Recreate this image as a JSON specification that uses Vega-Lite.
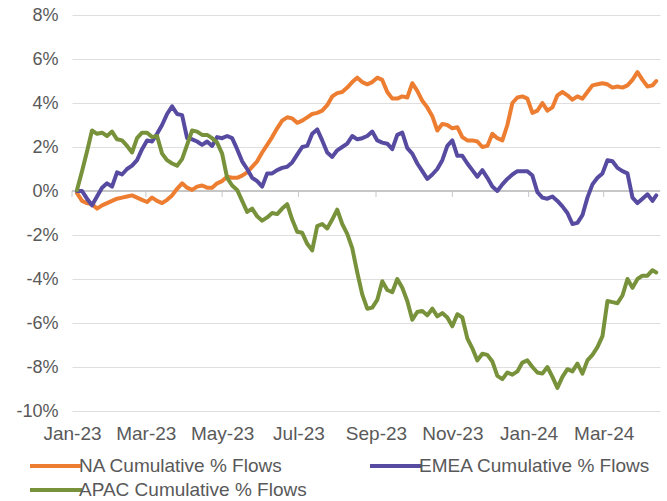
{
  "$schema": "https://vega.github.io/schema/vega-lite/v6.json",
  "width": 588,
  "height": 396,
  "autosize": {"type": "none"},
  "padding": {"left": 72, "top": 15, "right": 7, "bottom": 90},
  "background": "white",
  "config": {"view": {"stroke": null}, "font": "Liberation Sans"},
  "datasets": {
    "ticks": [
      {"d": "2023-01-01"}, {"d": "2023-03-01"}, {"d": "2023-05-01"}, {"d": "2023-07-01"},
      {"d": "2023-09-01"}, {"d": "2023-11-01"}, {"d": "2024-01-01"}, {"d": "2024-03-01"}
    ],
    "flows": [
      {"d": "2023-01-05", "NA": -0.1, "EMEA": 0, "APAC": 0.05},
      {"d": "2023-01-09", "NA": -0.45, "EMEA": 0.0, "APAC": 0.9},
      {"d": "2023-01-13", "NA": -0.55, "EMEA": -0.35, "APAC": 1.8},
      {"d": "2023-01-17", "NA": -0.6, "EMEA": -0.65, "APAC": 2.75},
      {"d": "2023-01-21", "NA": -0.8, "EMEA": -0.25, "APAC": 2.6},
      {"d": "2023-01-25", "NA": -0.65, "EMEA": 0.15, "APAC": 2.65},
      {"d": "2023-01-29", "NA": -0.55, "EMEA": 0.35, "APAC": 2.5},
      {"d": "2023-02-02", "NA": -0.45, "EMEA": 0.2, "APAC": 2.7},
      {"d": "2023-02-06", "NA": -0.35, "EMEA": 0.85, "APAC": 2.35},
      {"d": "2023-02-10", "NA": -0.3, "EMEA": 0.75, "APAC": 2.3},
      {"d": "2023-02-14", "NA": -0.25, "EMEA": 1.0, "APAC": 2.05},
      {"d": "2023-02-18", "NA": -0.2, "EMEA": 1.15, "APAC": 1.75},
      {"d": "2023-02-22", "NA": -0.3, "EMEA": 1.4, "APAC": 2.4},
      {"d": "2023-02-26", "NA": -0.4, "EMEA": 1.9, "APAC": 2.65},
      {"d": "2023-03-02", "NA": -0.5, "EMEA": 2.3, "APAC": 2.65},
      {"d": "2023-03-06", "NA": -0.3, "EMEA": 2.25, "APAC": 2.45},
      {"d": "2023-03-10", "NA": -0.45, "EMEA": 2.6, "APAC": 2.5},
      {"d": "2023-03-14", "NA": -0.55, "EMEA": 3.0, "APAC": 1.7},
      {"d": "2023-03-18", "NA": -0.4, "EMEA": 3.5, "APAC": 1.4},
      {"d": "2023-03-22", "NA": -0.2, "EMEA": 3.85, "APAC": 1.25},
      {"d": "2023-03-26", "NA": 0.1, "EMEA": 3.5, "APAC": 1.15},
      {"d": "2023-03-30", "NA": 0.35, "EMEA": 3.45, "APAC": 1.45},
      {"d": "2023-04-03", "NA": 0.15, "EMEA": 2.4, "APAC": 2.1},
      {"d": "2023-04-07", "NA": 0.05, "EMEA": 2.35, "APAC": 2.75},
      {"d": "2023-04-11", "NA": 0.2, "EMEA": 2.25, "APAC": 2.7},
      {"d": "2023-04-15", "NA": 0.25, "EMEA": 2.1, "APAC": 2.55},
      {"d": "2023-04-19", "NA": 0.15, "EMEA": 2.25, "APAC": 2.55},
      {"d": "2023-04-23", "NA": 0.15, "EMEA": 2.05, "APAC": 2.4},
      {"d": "2023-04-27", "NA": 0.35, "EMEA": 2.45, "APAC": 2.2},
      {"d": "2023-05-01", "NA": 0.45, "EMEA": 2.4, "APAC": 1.7},
      {"d": "2023-05-05", "NA": 0.65, "EMEA": 2.5, "APAC": 0.6},
      {"d": "2023-05-09", "NA": 0.6, "EMEA": 2.4, "APAC": 0.25},
      {"d": "2023-05-13", "NA": 0.6, "EMEA": 1.9, "APAC": 0.05},
      {"d": "2023-05-17", "NA": 0.7, "EMEA": 1.35, "APAC": -0.45},
      {"d": "2023-05-21", "NA": 0.85, "EMEA": 1.0, "APAC": -0.95},
      {"d": "2023-05-25", "NA": 1.1, "EMEA": 0.6, "APAC": -0.8},
      {"d": "2023-05-29", "NA": 1.35, "EMEA": 0.45, "APAC": -1.15},
      {"d": "2023-06-02", "NA": 1.75, "EMEA": 0.2, "APAC": -1.35},
      {"d": "2023-06-06", "NA": 2.1, "EMEA": 0.8, "APAC": -1.2},
      {"d": "2023-06-10", "NA": 2.45, "EMEA": 0.8, "APAC": -1.0},
      {"d": "2023-06-14", "NA": 2.85, "EMEA": 0.95, "APAC": -1.05},
      {"d": "2023-06-18", "NA": 3.2, "EMEA": 1.05, "APAC": -0.8},
      {"d": "2023-06-22", "NA": 3.35, "EMEA": 1.1, "APAC": -0.6},
      {"d": "2023-06-26", "NA": 3.3, "EMEA": 1.3, "APAC": -1.3},
      {"d": "2023-06-30", "NA": 3.1, "EMEA": 1.65, "APAC": -1.85},
      {"d": "2023-07-04", "NA": 3.2, "EMEA": 2.0, "APAC": -1.9},
      {"d": "2023-07-08", "NA": 3.35, "EMEA": 2.05, "APAC": -2.4},
      {"d": "2023-07-12", "NA": 3.5, "EMEA": 2.6, "APAC": -2.7},
      {"d": "2023-07-16", "NA": 3.55, "EMEA": 2.8, "APAC": -1.6},
      {"d": "2023-07-20", "NA": 3.65, "EMEA": 2.3, "APAC": -1.5},
      {"d": "2023-07-24", "NA": 3.9, "EMEA": 1.75, "APAC": -1.7},
      {"d": "2023-07-28", "NA": 4.3, "EMEA": 1.55, "APAC": -1.3},
      {"d": "2023-08-01", "NA": 4.45, "EMEA": 1.85, "APAC": -0.85},
      {"d": "2023-08-05", "NA": 4.5, "EMEA": 2.0, "APAC": -1.5},
      {"d": "2023-08-09", "NA": 4.7, "EMEA": 2.15, "APAC": -1.95},
      {"d": "2023-08-13", "NA": 4.95, "EMEA": 2.5, "APAC": -2.6},
      {"d": "2023-08-17", "NA": 5.15, "EMEA": 2.35, "APAC": -3.7},
      {"d": "2023-08-21", "NA": 4.95, "EMEA": 2.4, "APAC": -4.7},
      {"d": "2023-08-25", "NA": 4.85, "EMEA": 2.5, "APAC": -5.35},
      {"d": "2023-08-29", "NA": 4.95, "EMEA": 2.7, "APAC": -5.3},
      {"d": "2023-09-02", "NA": 5.15, "EMEA": 2.3, "APAC": -4.95},
      {"d": "2023-09-06", "NA": 5.05, "EMEA": 2.2, "APAC": -4.1},
      {"d": "2023-09-10", "NA": 4.5, "EMEA": 2.15, "APAC": -4.5},
      {"d": "2023-09-14", "NA": 4.2, "EMEA": 1.9, "APAC": -4.6},
      {"d": "2023-09-18", "NA": 4.2, "EMEA": 2.55, "APAC": -4.0},
      {"d": "2023-09-22", "NA": 4.3, "EMEA": 2.65, "APAC": -4.4},
      {"d": "2023-09-26", "NA": 4.25, "EMEA": 1.95, "APAC": -5.0},
      {"d": "2023-09-30", "NA": 4.9, "EMEA": 1.7, "APAC": -5.85},
      {"d": "2023-10-04", "NA": 4.55, "EMEA": 1.25, "APAC": -5.5},
      {"d": "2023-10-08", "NA": 4.1, "EMEA": 0.9, "APAC": -5.45},
      {"d": "2023-10-12", "NA": 3.8, "EMEA": 0.55, "APAC": -5.65},
      {"d": "2023-10-16", "NA": 3.4, "EMEA": 0.75, "APAC": -5.35},
      {"d": "2023-10-20", "NA": 2.75, "EMEA": 1.0, "APAC": -5.7},
      {"d": "2023-10-24", "NA": 3.05, "EMEA": 1.4, "APAC": -5.55},
      {"d": "2023-10-28", "NA": 3.0, "EMEA": 2.05, "APAC": -5.75},
      {"d": "2023-11-01", "NA": 2.85, "EMEA": 2.3, "APAC": -6.15},
      {"d": "2023-11-05", "NA": 2.9, "EMEA": 1.6, "APAC": -5.6},
      {"d": "2023-11-09", "NA": 2.45, "EMEA": 1.6, "APAC": -5.75},
      {"d": "2023-11-13", "NA": 2.3, "EMEA": 1.25, "APAC": -6.7},
      {"d": "2023-11-17", "NA": 2.3, "EMEA": 0.95, "APAC": -7.15},
      {"d": "2023-11-21", "NA": 2.25, "EMEA": 0.65, "APAC": -7.7},
      {"d": "2023-11-25", "NA": 2.0, "EMEA": 0.95, "APAC": -7.4},
      {"d": "2023-11-29", "NA": 2.05, "EMEA": 0.6, "APAC": -7.45},
      {"d": "2023-12-03", "NA": 2.6, "EMEA": 0.2, "APAC": -7.75},
      {"d": "2023-12-07", "NA": 2.4, "EMEA": 0.0, "APAC": -8.4},
      {"d": "2023-12-11", "NA": 2.3, "EMEA": 0.3, "APAC": -8.55},
      {"d": "2023-12-15", "NA": 3.0, "EMEA": 0.55, "APAC": -8.25},
      {"d": "2023-12-19", "NA": 4.0, "EMEA": 0.75, "APAC": -8.35},
      {"d": "2023-12-23", "NA": 4.25, "EMEA": 0.9, "APAC": -8.2},
      {"d": "2023-12-27", "NA": 4.3, "EMEA": 0.9, "APAC": -7.8},
      {"d": "2023-12-31", "NA": 4.2, "EMEA": 0.9, "APAC": -7.7},
      {"d": "2024-01-04", "NA": 3.55, "EMEA": 0.7, "APAC": -8.0},
      {"d": "2024-01-08", "NA": 3.65, "EMEA": -0.05, "APAC": -8.25},
      {"d": "2024-01-12", "NA": 4.0, "EMEA": -0.3, "APAC": -8.3},
      {"d": "2024-01-16", "NA": 3.65, "EMEA": -0.35, "APAC": -8.0},
      {"d": "2024-01-20", "NA": 3.8, "EMEA": -0.25, "APAC": -8.45},
      {"d": "2024-01-24", "NA": 4.35, "EMEA": -0.45, "APAC": -8.95},
      {"d": "2024-01-28", "NA": 4.5, "EMEA": -0.7, "APAC": -8.45},
      {"d": "2024-02-01", "NA": 4.35, "EMEA": -1.0, "APAC": -8.1},
      {"d": "2024-02-05", "NA": 4.15, "EMEA": -1.5, "APAC": -8.2},
      {"d": "2024-02-09", "NA": 4.3, "EMEA": -1.45, "APAC": -7.85},
      {"d": "2024-02-13", "NA": 4.2, "EMEA": -1.1, "APAC": -8.3},
      {"d": "2024-02-17", "NA": 4.5, "EMEA": -0.3, "APAC": -7.7},
      {"d": "2024-02-21", "NA": 4.8, "EMEA": 0.3, "APAC": -7.45},
      {"d": "2024-02-25", "NA": 4.85, "EMEA": 0.6, "APAC": -7.1},
      {"d": "2024-02-29", "NA": 4.9, "EMEA": 0.8, "APAC": -6.6},
      {"d": "2024-03-04", "NA": 4.85, "EMEA": 1.4, "APAC": -5.0},
      {"d": "2024-03-08", "NA": 4.7, "EMEA": 1.35, "APAC": -5.05},
      {"d": "2024-03-12", "NA": 4.75, "EMEA": 1.05, "APAC": -5.1},
      {"d": "2024-03-16", "NA": 4.7, "EMEA": 0.9, "APAC": -4.75},
      {"d": "2024-03-20", "NA": 4.8, "EMEA": 0.8, "APAC": -4.0},
      {"d": "2024-03-24", "NA": 5.05, "EMEA": -0.3, "APAC": -4.4},
      {"d": "2024-03-28", "NA": 5.4, "EMEA": -0.55, "APAC": -4.0},
      {"d": "2024-04-01", "NA": 5.05, "EMEA": -0.35, "APAC": -3.85},
      {"d": "2024-04-05", "NA": 4.75, "EMEA": -0.15, "APAC": -3.85},
      {"d": "2024-04-09", "NA": 4.8, "EMEA": -0.45, "APAC": -3.6},
      {"d": "2024-04-12", "NA": 5.0, "EMEA": -0.2, "APAC": -3.7}
    ]
  },
  "layer": [
    {
      "data": {"name": "flows"},
      "mark": {"type": "rule", "color": "#c6c6c6", "strokeWidth": 1},
      "encoding": {"y": {"datum": 0, "type": "quantitative"}}
    },
    {
      "data": {"name": "ticks"},
      "mark": {"type": "rule", "color": "#c6c6c6", "strokeWidth": 1},
      "encoding": {
        "x": {"field": "d", "type": "temporal"},
        "y": {"datum": 0, "type": "quantitative"},
        "y2": {"datum": -0.27}
      }
    },
    {
      "data": {"name": "flows"},
      "transform": [{"fold": ["NA", "EMEA", "APAC"], "as": ["series", "pct"]}],
      "mark": {"type": "line", "strokeWidth": 4, "strokeJoin": "round", "strokeCap": "round"},
      "encoding": {
        "x": {
          "field": "d",
          "type": "temporal",
          "scale": {
            "type": "utc",
            "domain": [
              {"year": 2023, "month": 1, "date": 1, "utc": true},
              {"year": 2024, "month": 4, "date": 15, "utc": true}
            ]
          },
          "axis": {
            "title": null,
            "values": [
              {"year": 2023, "month": 1, "date": 1, "utc": true},
              {"year": 2023, "month": 3, "date": 1, "utc": true},
              {"year": 2023, "month": 5, "date": 1, "utc": true},
              {"year": 2023, "month": 7, "date": 1, "utc": true},
              {"year": 2023, "month": 9, "date": 1, "utc": true},
              {"year": 2023, "month": 11, "date": 1, "utc": true},
              {"year": 2024, "month": 1, "date": 1, "utc": true},
              {"year": 2024, "month": 3, "date": 1, "utc": true}
            ],
            "format": "%b-%y",
            "domain": false,
            "ticks": false,
            "grid": false,
            "labelFont": "Liberation Sans",
            "labelFontSize": 19,
            "labelColor": "#595959",
            "labelPadding": 13,
            "labelOverlap": false,
            "labelFlush": false
          }
        },
        "y": {
          "field": "pct",
          "type": "quantitative",
          "scale": {"domain": [-10, 8], "nice": false, "zero": false},
          "axis": {
            "title": null,
            "values": [-10, -8, -6, -4, -2, 0, 2, 4, 6, 8],
            "labelExpr": "datum.value + '%'",
            "domain": false,
            "ticks": false,
            "grid": true,
            "gridColor": "#dedede",
            "gridWidth": 1,
            "labelFont": "Liberation Sans",
            "labelFontSize": 18,
            "labelColor": "#595959",
            "labelPadding": 14
          }
        },
        "color": {
          "field": "series",
          "type": "nominal",
          "scale": {"domain": ["NA", "APAC", "EMEA"], "range": ["#ED7D31", "#77923A", "#574BA1"]},
          "legend": {
            "title": null,
            "orient": "none",
            "legendX": -44,
            "legendY": 439,
            "columns": 2,
            "columnPadding": 55,
            "rowPadding": 2,
            "symbolType": "M-2.6,0H2.6",
            "symbolSize": 400,
            "symbolStrokeWidth": 4,
            "symbolOffset": 16,
            "labelOffset": 11,
            "labelFont": "Liberation Sans",
            "labelFontSize": 19,
            "labelColor": "#595959",
            "labelLimit": 400,
            "labelExpr": "datum.label + ' Cumulative % Flows'"
          }
        }
      }
    }
  ]
}
